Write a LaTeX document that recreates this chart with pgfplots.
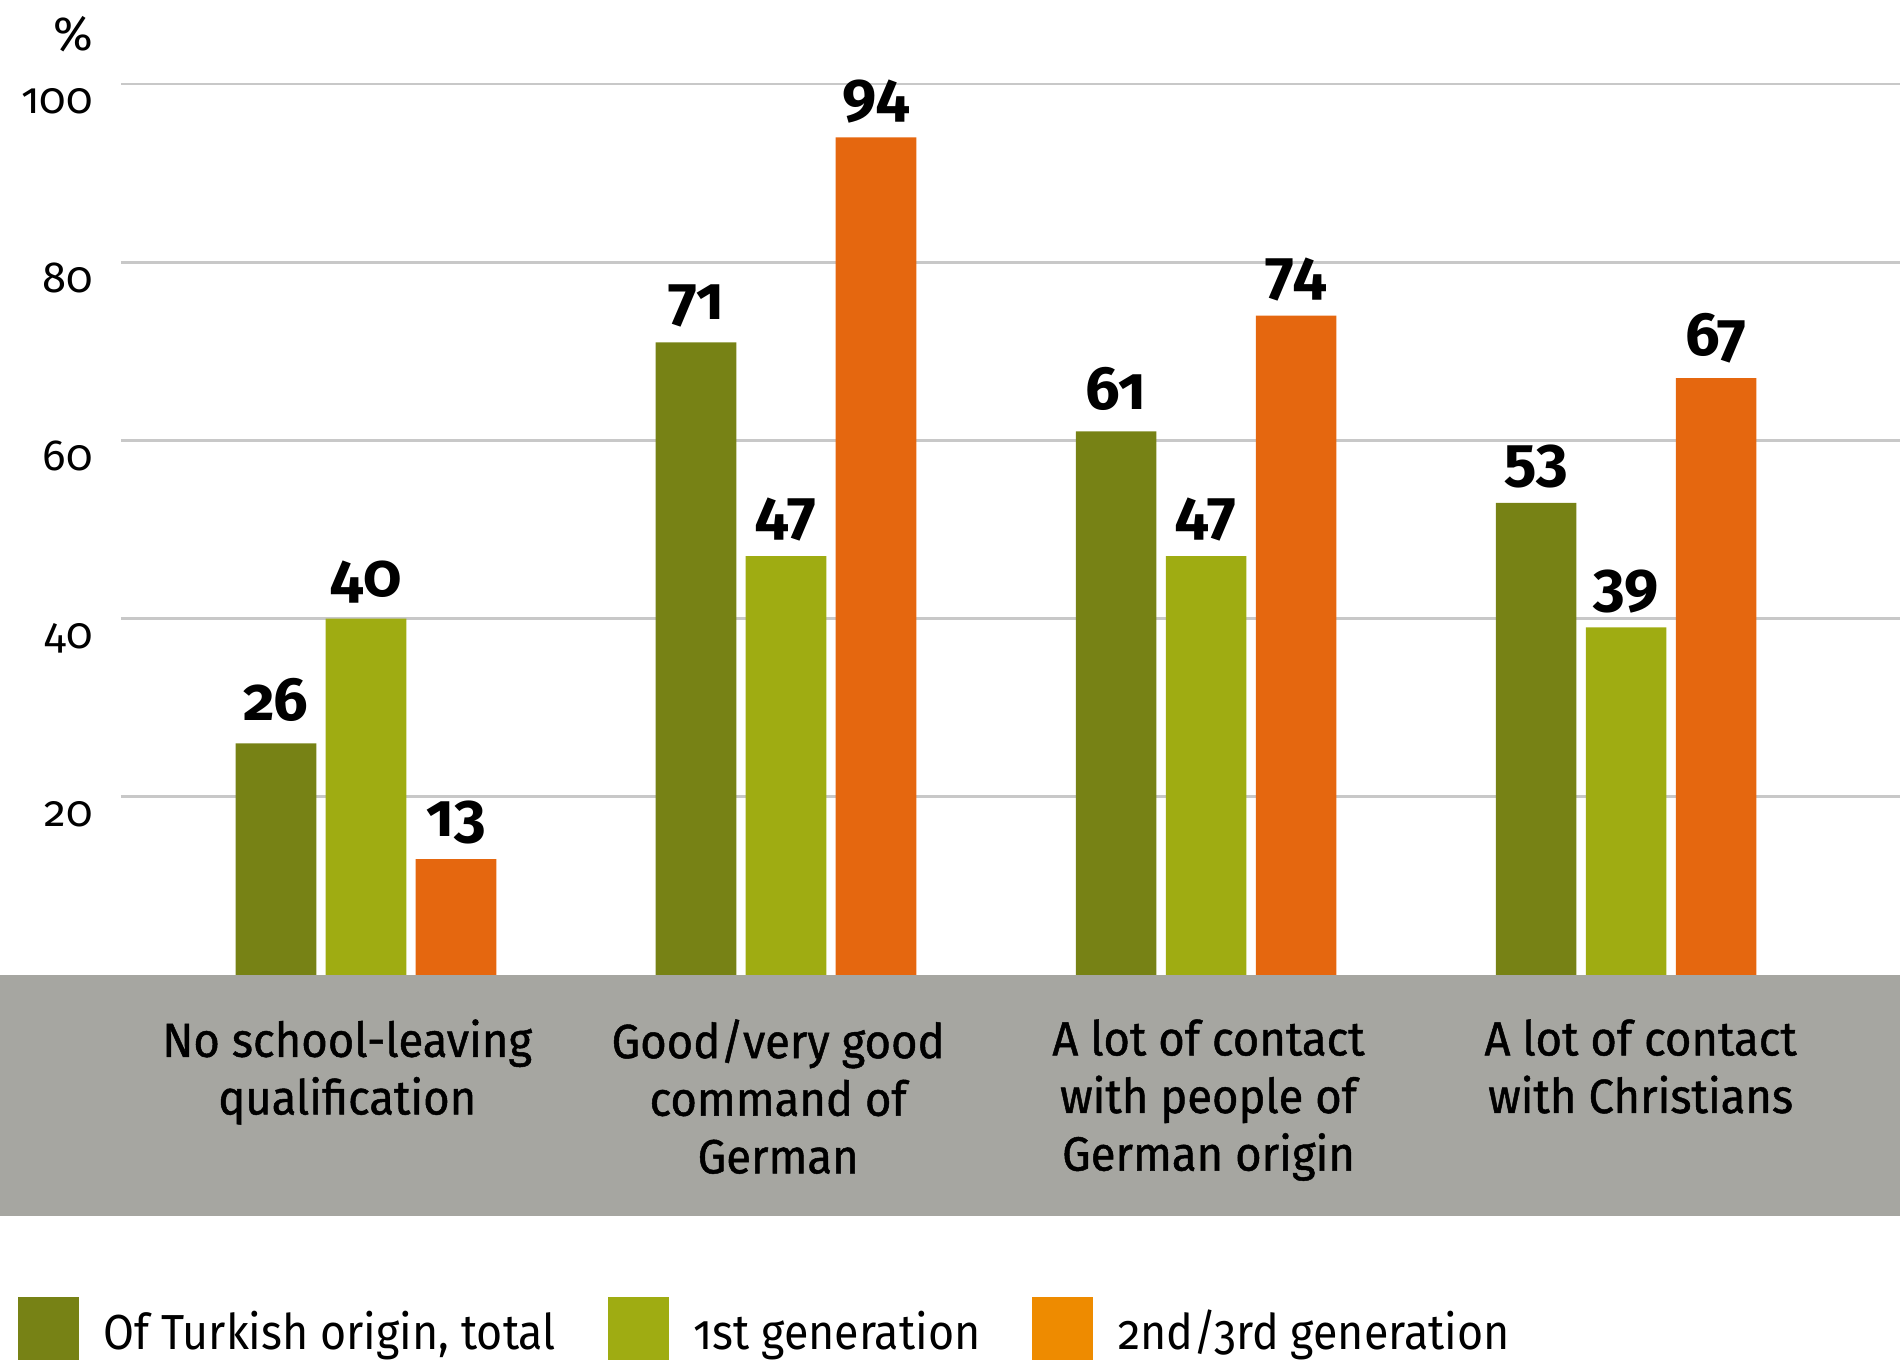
\documentclass[border=0pt]{standalone}
\usepackage{fontspec}
\setmainfont{Fira Sans}[Numbers=OldStyle]
\newfontfamily\catfont{Fira Sans}[Numbers=OldStyle, FakeStretch=0.945, FakeBold=1]
\newfontfamily\legfont{Fira Sans}[Numbers=OldStyle, FakeStretch=0.91]
\usepackage{pgfplots}
\pgfplotsset{compat=1.18}
\definecolor{oliveA}{HTML}{778215}
\definecolor{oliveB}{HTML}{9FAC12}
\definecolor{orng}{HTML}{E5670F}
\definecolor{legorng}{HTML}{EE8B00}
\definecolor{band}{HTML}{A6A6A1}
\definecolor{gridc}{HTML}{C8C8C8}
\begin{document}
\begin{tikzpicture}
\useasboundingbox (0,0) rectangle (475pt,340pt);
\fill[band] (0,36pt) rectangle (475pt,96.25pt);
\node[anchor=base east, inner sep=0pt, font=\fontsize{12}{14}\selectfont] at (23.5pt,327.3pt) {\%};
\begin{axis}[
  at={(30.25pt,96.25pt)}, anchor=south west,
  scale only axis, width=444.75pt, height=222.75pt,
  xmin=-0.5833, xmax=3.652, ymin=0, ymax=100,
  axis line style={draw=none},
  major tick length=0pt,
  ytick={20,40,60,80,100},
  ymajorgrids, grid style={gridc, line width=0.67pt},
  xtick={-0.0447,0.9812,2.0058,3.0346},
  xticklabels={{No school-leaving\\qualification},{Good/very good\\command of\\German},{A lot of contact\\with people of\\German origin},{A lot of contact\\with Christians}},
  xticklabel style={align=center, anchor=north, inner sep=0pt, yshift=-10.9pt, font=\catfont\fontsize{12}{14.4}\selectfont},
  yticklabel style={anchor=base east, inner sep=0pt, xshift=-6.9pt, yshift=-7.5pt, font=\fontsize{10.9}{13}\selectfont},
  /pgf/number format/assume math mode=true,
  ybar, bar width=0.192,
  clip=false,
  nodes near coords,
  nodes near coords style={font=\bfseries\fontsize{15.3}{18}\selectfont, anchor=base, inner sep=0pt, yshift=5.6pt},
  legend columns=3,
  legend style={at={(-0.05806,-0.3612)}, anchor=north west, draw=none, fill=none, inner sep=0pt, outer sep=0pt,
    font=\legfont\fontsize{12.3}{15}\selectfont, nodes={inner sep=0pt}, cells={anchor=base west},
    /tikz/every odd column/.append style={column sep=6.2pt},
    /tikz/every even column/.append style={column sep=13pt}},
]
\addplot[fill=oliveA, draw=none, bar shift=-0.2143,
  legend image code/.code={\fill[oliveA] (0pt,-2.67pt) rectangle (15.25pt,13.15pt);}]
  coordinates {(0,26) (1,71) (2,61) (3,53)};
\addplot[fill=oliveB, draw=none, bar shift=0,
  legend image code/.code={\fill[oliveB] (0pt,-2.67pt) rectangle (15.25pt,13.15pt);}]
  coordinates {(0,40) (1,47) (2,47) (3,39)};
\addplot[fill=orng, draw=none, bar shift=0.2143,
  legend image code/.code={\fill[legorng] (0pt,-2.67pt) rectangle (15.25pt,13.15pt);}]
  coordinates {(0,13) (1,94) (2,74) (3,67)};
\legend{{Of Turkish origin, total}, 1st generation, 2nd/3rd generation}
\end{axis}
\end{tikzpicture}
\end{document}
